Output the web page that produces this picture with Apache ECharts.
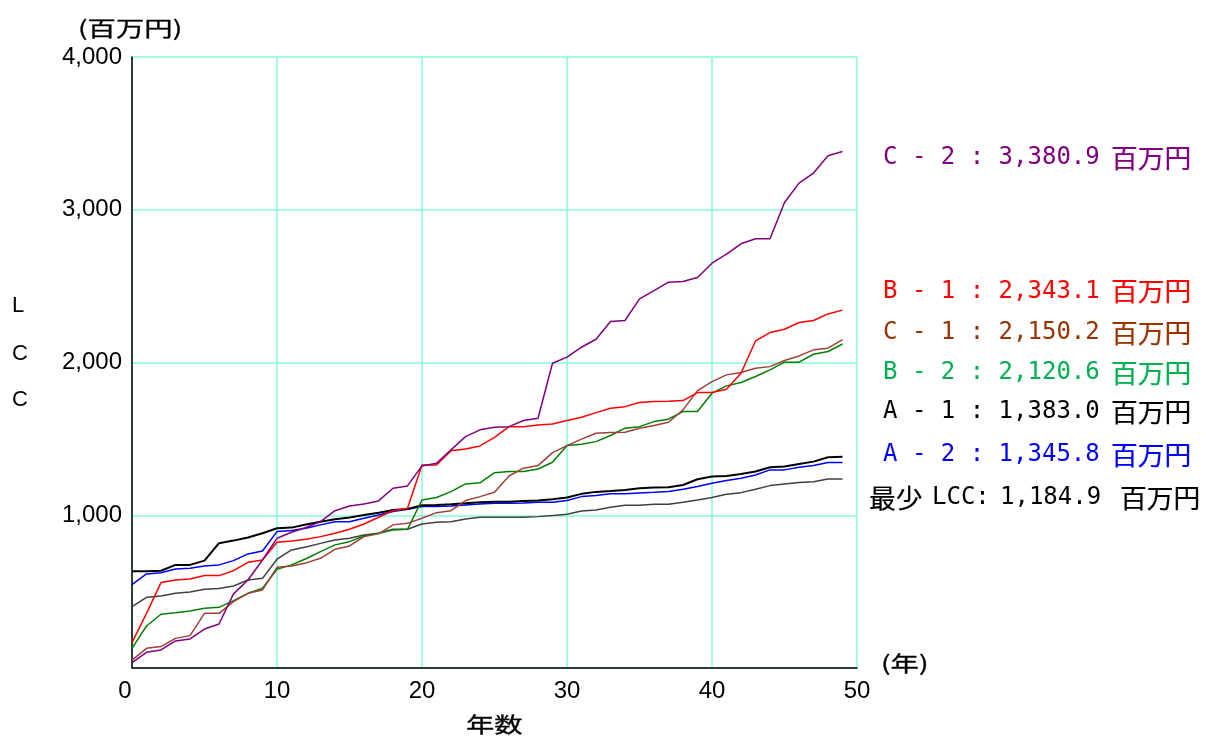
<!DOCTYPE html>
<html><head><meta charset="utf-8">
<script src="https://cdn.jsdelivr.net/npm/echarts@6/dist/echarts.min.js"></script>
<style>html,body{margin:0;padding:0;background:#fff;}#c{width:1206px;height:738px;}</style>
</head><body><div id="c"></div>
<script>
var years = [0,1,2,3,4,5,6,7,8,9,10,11,12,13,14,15,16,17,18,19,20,21,22,23,24,25,26,27,28,29,30,31,32,33,34,35,36,37,38,39,40,41,42,43,44,45,46,47,48,49];
var xTicks = [0,10,20,30,40,50];
var yTicks = [0,1000,2000,3000,4000];
var seriesNames = ['C－2','B－1','C－1','B－2','A－1','A－2','最少LCC'];
var C2 = [35,103,118,177,190,255,288,485,576,707,849,889,920,958,1030,1061,1074,1094,1177,1192,1323,1340,1428,1515,1559,1576,1580,1620,1635,1995,2035,2100,2152,2268,2275,2417,2471,2526,2530,2556,2650,2709,2777,2810,2810,3047,3174,3240,3353,3381];
var B1 = [166,358,559,576,583,605,605,637,692,707,823,832,843,860,882,908,943,987,1030,1046,1329,1329,1423,1434,1454,1510,1580,1580,1591,1598,1620,1642,1672,1701,1711,1738,1744,1746,1751,1803,1803,1825,1930,2141,2196,2218,2262,2275,2318,2343];
var C1 = [52,129,140,194,212,358,358,434,489,511,659,668,688,718,777,799,860,878,937,947,980,1017,1030,1096,1122,1150,1257,1308,1325,1410,1456,1498,1537,1541,1543,1570,1587,1609,1690,1816,1875,1919,1934,1962,1973,2013,2043,2083,2094,2150];
var B2 = [129,275,352,362,373,391,397,441,489,522,646,675,715,762,806,827,864,882,904,908,1100,1116,1155,1205,1212,1279,1286,1286,1303,1347,1456,1465,1482,1522,1570,1580,1613,1629,1679,1679,1799,1847,1869,1908,1952,2002,2002,2054,2072,2121];
var A1 = [633,633,637,675,675,703,817,834,854,882,915,919,940,958,974,985,1002,1017,1035,1041,1065,1067,1072,1078,1085,1089,1089,1094,1096,1105,1116,1140,1153,1159,1166,1177,1181,1183,1198,1236,1253,1257,1270,1286,1314,1319,1336,1351,1380,1383];
var A2 = [546,616,624,648,653,668,675,703,747,766,893,900,915,937,958,958,980,1002,1024,1039,1057,1057,1060,1067,1074,1078,1078,1081,1085,1085,1096,1122,1129,1140,1140,1146,1150,1155,1170,1188,1209,1227,1242,1264,1297,1297,1314,1325,1345,1346];
var MIN = [402,463,472,489,498,515,520,537,576,587,712,773,792,816,838,849,871,882,908,908,943,954,958,976,987,987,987,987,991,998,1006,1028,1035,1052,1065,1065,1072,1072,1085,1100,1116,1137,1148,1170,1194,1205,1214,1220,1238,1238];
var legendNums = ['3,380.9','2,343.1','2,150.2','2,120.6','1,383.0','1,345.8','1,184.9'];

function pairs(arr){ return years.map(function(y,i){ return [y, arr[i]]; }); }

var chart = echarts.init(document.getElementById('c'));
var lineColors = ['#800080','#ff0000','#a0403a','#008000','#000000','#0000ff','#404040'];
var labelColors = ['#800080','#ff0000','#993300','#00b050','#000000','#0000ff','#000000'];
var dataSets = [C2,B1,C1,B2,A1,A2,MIN];
var widths = [1.5,1.5,1.5,1.5,2,1.5,1.5];

var series = dataSets.map(function(d,i){
  return {name: seriesNames[i], type:'line', data: pairs(d), symbol:'none', silent:true,
    lineStyle:{color: lineColors[i], width: widths[i]}, z: 10 - i, animation:false};
});

var mono = '"DejaVu Sans Mono", monospace';
var cjk = '"Noto Sans CJK JP", sans-serif';
var graphics = [];
function txt(x, y, s, font, color, sx, align, stroke){
  var st = {text:s, font:font, fill:color, align: align || 'left', verticalAlign:'middle'};
  if (stroke) { st.stroke = color; st.lineWidth = stroke; }
  graphics.push({type:'text', x:x, y:y, scaleX: sx || 1, silent:true, style:st});
}
var labelY = [158, 291.5, 333, 373, 412, 455, 498];
for (var i=0;i<6;i++){
  var p = seriesNames[i].split('－');
  txt(883, labelY[i], p[0] + ' - ' + p[1] + ' : ' + legendNums[i], '24px ' + mono, labelColors[i]);
  txt(1111, labelY[i], '百万円', '26px ' + cjk, labelColors[i], 1.03, 'left', 0.2);
}
txt(869, labelY[6], '最少', '26px ' + cjk, '#000', 1.03, 'left', 0.2);
txt(932, labelY[6], 'LCC:', '24px ' + mono, '#000');
txt(1000, labelY[6], legendNums[6], '24px ' + mono, '#000');
txt(1120, labelY[6], '百万円', '26px ' + cjk, '#000', 1.03, 'left', 0.2);

txt(78, 28, '(百万円)', '21px ' + cjk, '#000', 1.35, 'left', 0.3);
txt(881, 663, '(年)', '21px ' + cjk, '#000', 1.35, 'left', 0.3);
txt(466, 724, '年数', '21px ' + cjk, '#000', 1.35, 'left', 0.3);
txt(125, 691, '0', '24px "Liberation Sans"', '#000', 1, 'center');
['L','C','C'].forEach(function(ch, k){
  txt(12, [305.5, 353.5, 400][k], ch, '22px "Liberation Sans"', '#000');
});

chart.setOption({
  animation:false,
  backgroundColor:'#fff',
  grid:{left:132, right:349, top:57, bottom:70, containLabel:false},
  xAxis:{type:'value', min:xTicks[0], max:xTicks[xTicks.length-1], interval:10,
    axisLine:{show:true, lineStyle:{color:'#000', width:1.5}}, axisTick:{show:false},
    axisLabel:{color:'#000', fontSize:24, fontFamily:'"Liberation Sans", Arial', margin:11,
      formatter:function(v){ return v===0 ? '' : String(v); }},
    splitLine:{show:true, lineStyle:{color:'#88f7d8', width:1.5}}},
  yAxis:{type:'value', min:yTicks[0], max:yTicks[yTicks.length-1], interval:1000,
    axisLine:{show:true, lineStyle:{color:'#000', width:1.5}}, axisTick:{show:false},
    axisLabel:{color:'#000', fontSize:24, fontFamily:'"Liberation Sans", Arial', margin:10,
      formatter:function(v){ return v===0 ? '' : v.toLocaleString('en-US'); }},
    splitLine:{show:true, lineStyle:{color:'#88f7d8', width:1.5}}},
  series: series,
  graphic: graphics
});
</script></body></html>
